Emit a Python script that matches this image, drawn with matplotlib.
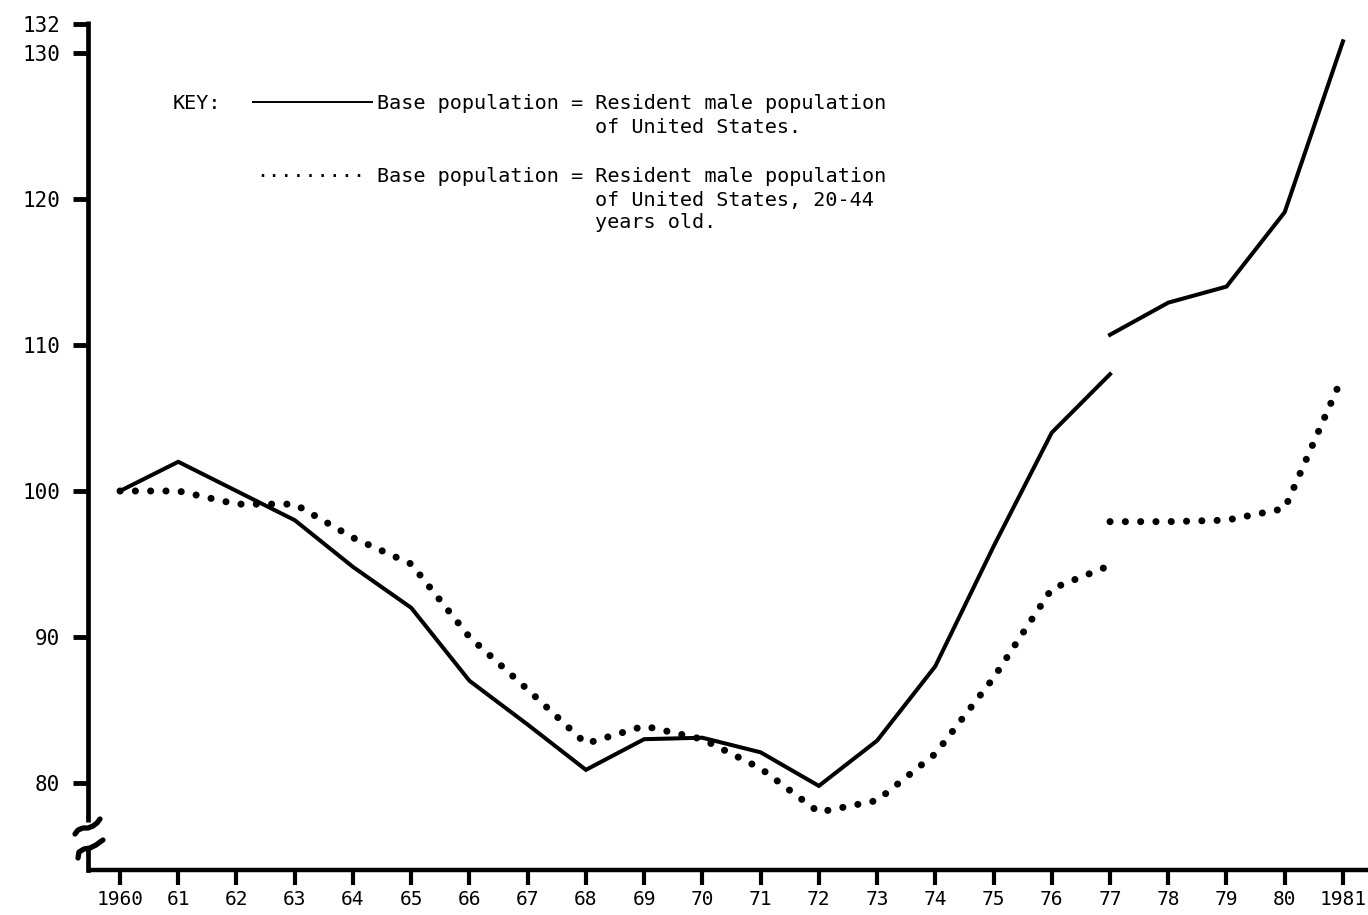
import matplotlib
matplotlib.use('Agg')
import matplotlib.pyplot as plt
import matplotlib.transforms as mtransforms
from matplotlib.lines import Line2D

plt.rcParams['font.family'] = ['DejaVu Sans Mono']

# ---- data ----
years_a = [1960, 1961, 1962, 1963, 1964, 1965, 1966, 1967, 1968, 1969,
           1970, 1971, 1972, 1973, 1974, 1975, 1976, 1977]
years_b = [1977, 1978, 1979, 1980, 1981]
solid_a = [100, 102, 100, 98, 94.8, 92, 87, 84, 80.9, 83, 83.1, 82.1,
           79.8, 82.9, 88, 96.2, 104, 108]
solid_b = [110.7, 112.9, 114, 119.1, 130.8]
dotted_a = [100, 100, 99.1, 99.1, 96.8, 95, 90, 86.4, 82.7, 83.9, 83.0,
            81.0, 78.0, 78.8, 82.0, 87.2, 93.3, 94.9]
dotted_b = [97.9, 97.9, 98.0, 98.8, 107.9]

xtick_vals = list(range(1960, 1982))
xtick_labels = ['1960', '61', '62', '63', '64', '65', '66', '67', '68', '69',
                '70', '71', '72', '73', '74', '75', '76', '77', '78', '79',
                '80', '1981']
ytick_vals = [80, 90, 100, 110, 120, 130, 132]
ytick_labels = ['80', '90', '100', '110', '120', '130', '132']

key_title = 'KEY:'
key1 = ['Base population = Resident male population', 'of United States.']
key2 = ['Base population = Resident male population',
        'of United States, 20-44', 'years old.']

# ---- figure ----
W, H = 1368, 915
fig = plt.figure(figsize=(W / 100, H / 100), dpi=100)
fig.patch.set_facecolor('white')


def fx(x):
    return x / W


def fy(y):
    return 1 - y / H


ax = fig.add_axes([fx(88), fy(870), 1 - fx(88), 870 / H])
ax.set_xlim(1959.45, 1981.43)
ax.set_ylim(74.04, 133.63)

for s in ['top', 'right', 'left']:
    ax.spines[s].set_visible(False)
ax.spines['bottom'].set_linewidth(3.2)
ax.spines['bottom'].set_capstyle('butt')

ax.set_xticks(xtick_vals)
ax.set_xticklabels(xtick_labels)
ax.set_yticks(ytick_vals)
ax.set_yticklabels(ytick_labels)
ax.tick_params(axis='x', direction='out', length=11, width=3, pad=3.5,
               labelsize=14)
ax.tick_params(axis='y', direction='out', length=11, width=3.5, pad=9,
               labelsize=15)

# data lines
ax.plot(years_a, solid_a, color='black', lw=2.9, solid_joinstyle='miter')
ax.plot(years_b, solid_b, color='black', lw=2.9, solid_joinstyle='miter')
for yrs, vals in [(years_a, dotted_a), (years_b, dotted_b)]:
    ax.plot(yrs, vals, color='black', lw=5.1, linestyle=(0, (0.01, 2.15)),
            dash_capstyle='round')

# left axis with break
trans = mtransforms.blended_transform_factory(ax.transAxes, ax.transData)
ax.plot([0, 0], [132.2, 77.3], transform=trans, color='black', lw=3.4,
        clip_on=False, solid_capstyle='butt')
sq1 = [(75, 834), (78, 830), (83, 828), (88, 828), (93, 826), (97, 823),
       (100, 819)]
sq2 = [(78, 858), (79, 852), (84, 849), (90, 848), (96, 845), (100, 842),
       (103, 840)]
for sq in (sq1, sq2):
    fig.add_artist(Line2D([fx(p[0]) for p in sq], [fy(p[1]) for p in sq],
                          transform=fig.transFigure, color='black', lw=3.8,
                          solid_capstyle='round', solid_joinstyle='round'))
fig.add_artist(Line2D([fx(88), fx(88)], [fy(848), fy(870)],
                      transform=fig.transFigure, color='black', lw=3.4))

# key
fs = 14.5
fig.text(fx(173), fy(109), key_title, fontsize=fs, va='baseline')
fig.add_artist(Line2D([fx(253), fx(372)], [fy(102), fy(102)],
                      transform=fig.transFigure, color='black', lw=1.4))
fig.text(fx(377), fy(109), key1[0], fontsize=fs, va='baseline')
fig.text(fx(595), fy(133), key1[1], fontsize=fs, va='baseline')
fig.text(fx(256), fy(182), '\u00b7' * 9, fontsize=fs, va='baseline')
fig.text(fx(377), fy(182), key2[0], fontsize=fs, va='baseline')
fig.text(fx(595), fy(206), key2[1], fontsize=fs, va='baseline')
fig.text(fx(595), fy(228), key2[2], fontsize=fs, va='baseline')

fig.savefig('out.png', dpi=100, facecolor='white')
